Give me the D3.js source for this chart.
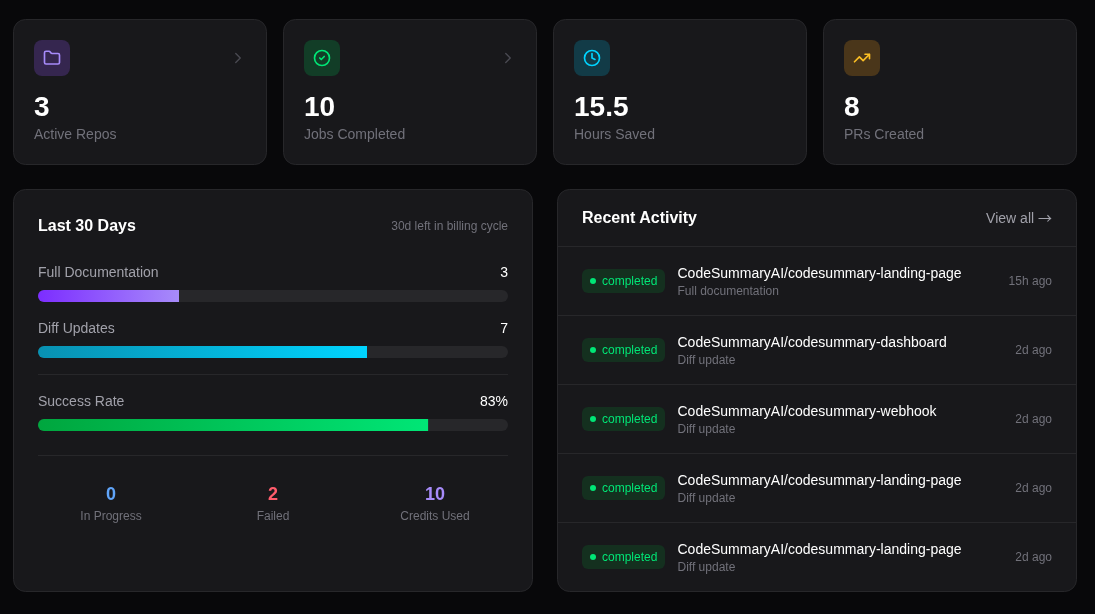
<!DOCTYPE html>
<html>
<head>
<meta charset="utf-8">
<script src="https://cdn.jsdelivr.net/npm/d3@7"></script>
<style>
  html, body { margin: 0; padding: 0; background: #08080a; overflow: hidden; }
  svg { display: block; will-change: transform; }
  text { font-family: "Liberation Sans", Arial, sans-serif; }
</style>
</head>
<body>
<div id="chart"></div>
<script>
//////////////////////// Data ////////////////////////////////
const statValues = ["3", "10", "15.5", "8"]
const statLabels = ["Active Repos", "Jobs Completed", "Hours Saved", "PRs Created"]
const statIcons = ["folder", "check", "clock", "trend"]
const statHasChevron = [true, true, false, false]

const usageLabels = ["Full Documentation", "Diff Updates"]
const usageValues = [3, 7]
const usageMax = 10
const successLabel = "Success Rate"
const successValue = 83

const summaryValues = [0, 2, 10]
const summaryLabels = ["In Progress", "Failed", "Credits Used"]

const activityRepos = [
    "CodeSummaryAI/codesummary-landing-page",
    "CodeSummaryAI/codesummary-dashboard",
    "CodeSummaryAI/codesummary-webhook",
    "CodeSummaryAI/codesummary-landing-page",
    "CodeSummaryAI/codesummary-landing-page"
]
const activityTypes = ["Full documentation", "Diff update", "Diff update", "Diff update", "Diff update"]
const activityTimes = ["15h ago", "2d ago", "2d ago", "2d ago", "2d ago"]
const activityStatus = "completed"

//////////////////////// Colors //////////////////////////////
const cardFill = "#18181b"
const cardStroke = "#27272a"
const trackFill = "#27272a"
const muted = "#71717a"
const soft = "#a1a1aa"
const iconColors = { folder: "#a78bfa", check: "#00e676", clock: "#00d4ff", trend: "#fbbf24" }
const iconBacks = { folder: "#35264f", check: "#123d27", clock: "#123b47", trend: "#4a361a" }
const summaryColors = ["#60a5fa", "#ff5c6c", "#a78bfa"]

//////////////////////// SVG /////////////////////////////////
const width = 1095
const height = 614
const svg = d3.select("#chart").append("svg")
    .attr("width", width)
    .attr("height", height)

const defs = svg.append("defs")
function addGradient(id, from, to) {
    const g = defs.append("linearGradient").attr("id", id)
    g.append("stop").attr("offset", "0%").attr("stop-color", from)
    g.append("stop").attr("offset", "100%").attr("stop-color", to)
}
addGradient("grad-purple", "#7c2dff", "#a78bfa")
addGradient("grad-cyan", "#0891b2", "#00d4ff")
addGradient("grad-green", "#00a63e", "#00e676")

const iconPaths = {
    folder: "M20 20a2 2 0 0 0 2-2V8a2 2 0 0 0-2-2h-7.9a2 2 0 0 1-1.69-.9L9.6 3.9A2 2 0 0 0 7.93 3H4a2 2 0 0 0-2 2v13a2 2 0 0 0 2 2Z",
    check: "M22 12a10 10 0 1 1-20 0a10 10 0 1 1 20 0M9 12l2 2l4-4",
    clock: "M22 12a10 10 0 1 1-20 0a10 10 0 1 1 20 0M12 6v6l4 2",
    trend: "M22 7l-8.5 8.5l-5-5L2 17M16 7h6v6"
}

function addText(parent, x, y, str, size, fill, weight, anchor) {
    return parent.append("text")
        .attr("x", x)
        .attr("y", y)
        .attr("font-size", size)
        .attr("font-weight", weight || 400)
        .attr("text-anchor", anchor || "start")
        .attr("fill", fill)
        .text(str)
}

function addCard(x, y, w, h) {
    svg.append("rect")
        .attr("x", x + 0.5).attr("y", y + 0.5)
        .attr("width", w - 1).attr("height", h - 1)
        .attr("rx", 12)
        .attr("fill", cardFill)
        .attr("stroke", cardStroke)
}

//////////////////////// Stat cards //////////////////////////
const cardScale = d3.scaleLinear().domain([0, 1]).range([13, 283])
const cardWidth = 254

statValues.forEach((value, i) => {
    const x = cardScale(i)
    addCard(x, 19, cardWidth, 146)
    const g = svg.append("g").attr("transform", `translate(${x},19)`)
    const name = statIcons[i]
    g.append("rect")
        .attr("x", 21).attr("y", 21).attr("width", 36).attr("height", 36).attr("rx", 8)
        .attr("fill", iconBacks[name])
    g.append("path")
        .attr("transform", "translate(30,30) scale(0.75)")
        .attr("d", iconPaths[name])
        .attr("fill", "none")
        .attr("stroke", iconColors[name])
        .attr("stroke-width", 2.2)
        .attr("stroke-linecap", "round")
        .attr("stroke-linejoin", "round")
    if (statHasChevron[i]) {
        g.append("path")
            .attr("transform", "translate(216,30) scale(0.75)")
            .attr("d", "M9 18l6-6l-6-6")
            .attr("fill", "none")
            .attr("stroke", "#4a4a52")
            .attr("stroke-width", 1.8)
            .attr("stroke-linecap", "round")
            .attr("stroke-linejoin", "round")
    }
    addText(g, 21, 97, value, 28, "#ffffff", 700)
    addText(g, 21, 120, statLabels[i], 14, muted)
})

//////////////////////// Usage panel /////////////////////////
addCard(13, 189, 520, 403)
addText(svg, 38, 231, "Last 30 Days", 16, "#ffffff", 700)
addText(svg, 508, 230, "30d left in billing cycle", 12, muted, 400, "end")

const usageScale = d3.scaleLinear().domain([0, usageMax]).range([0, 470])
const percentScale = d3.scaleLinear().domain([0, 100]).range([0, 470])

function addBar(label, valueText, barWidth, y, gradient) {
    addText(svg, 38, y - 13, label, 14, soft)
    addText(svg, 508, y - 13, valueText, 14, "#ffffff", 400, "end")
    const clipId = "clip-" + gradient
    defs.append("clipPath").attr("id", clipId)
        .append("rect")
        .attr("x", 38).attr("y", y).attr("width", 470).attr("height", 12).attr("rx", 6)
    const bar = svg.append("g").attr("clip-path", `url(#${clipId})`)
    bar.append("rect")
        .attr("x", 38).attr("y", y).attr("width", 470).attr("height", 12)
        .attr("fill", trackFill)
    bar.append("rect")
        .attr("x", 38).attr("y", y).attr("width", barWidth).attr("height", 12)
        .attr("fill", `url(#${gradient})`)
}

addBar(usageLabels[0], usageValues[0], usageScale(usageValues[0]), 290, "grad-purple")
addBar(usageLabels[1], usageValues[1], usageScale(usageValues[1]), 346, "grad-cyan")
addBar(successLabel, successValue + "%", percentScale(successValue), 419, "grad-green")

function addRule(x1, x2, y) {
    svg.append("line")
        .attr("x1", x1).attr("x2", x2)
        .attr("y1", y + 0.5).attr("y2", y + 0.5)
        .attr("stroke", cardStroke)
}
addRule(38, 508, 374)
addRule(38, 508, 455)

const summaryScale = d3.scalePoint()
    .domain(d3.range(summaryValues.length))
    .range([111, 435])
summaryValues.forEach((value, i) => {
    addText(svg, summaryScale(i), 500, value, 18, summaryColors[i], 700, "middle")
    addText(svg, summaryScale(i), 520, summaryLabels[i], 12, muted, 400, "middle")
})

//////////////////////// Activity panel //////////////////////
addCard(557, 189, 520, 403)
addText(svg, 582, 223, "Recent Activity", 16, "#ffffff", 700)
const viewAll = addText(svg, 1052, 223, "View all ", 14, soft, 400, "end")
viewAll.append("tspan").style("font-family", '"Noto Sans CJK JP"').text("→")

const rowScale = d3.scaleLinear().domain([0, 1]).range([247, 316])
activityRepos.forEach((repo, i) => {
    const top = rowScale(i)
    addRule(558, 1076, top - 1)
    const mid = top + 34
    svg.append("rect")
        .attr("x", 582).attr("y", mid - 12).attr("width", 83).attr("height", 24).attr("rx", 6)
        .attr("fill", "#14301f")
    svg.append("circle")
        .attr("cx", 593).attr("cy", mid).attr("r", 3)
        .attr("fill", "#00e676")
    addText(svg, 602, mid + 4, activityStatus, 12, "#00e676")
    addText(svg, 677.5, mid - 3, repo, 14, "#ffffff")
    addText(svg, 677.5, mid + 14, activityTypes[i], 12, muted)
    addText(svg, 1052, mid + 4, activityTimes[i], 12, muted, 400, "end")
})
</script>
</body>
</html>
